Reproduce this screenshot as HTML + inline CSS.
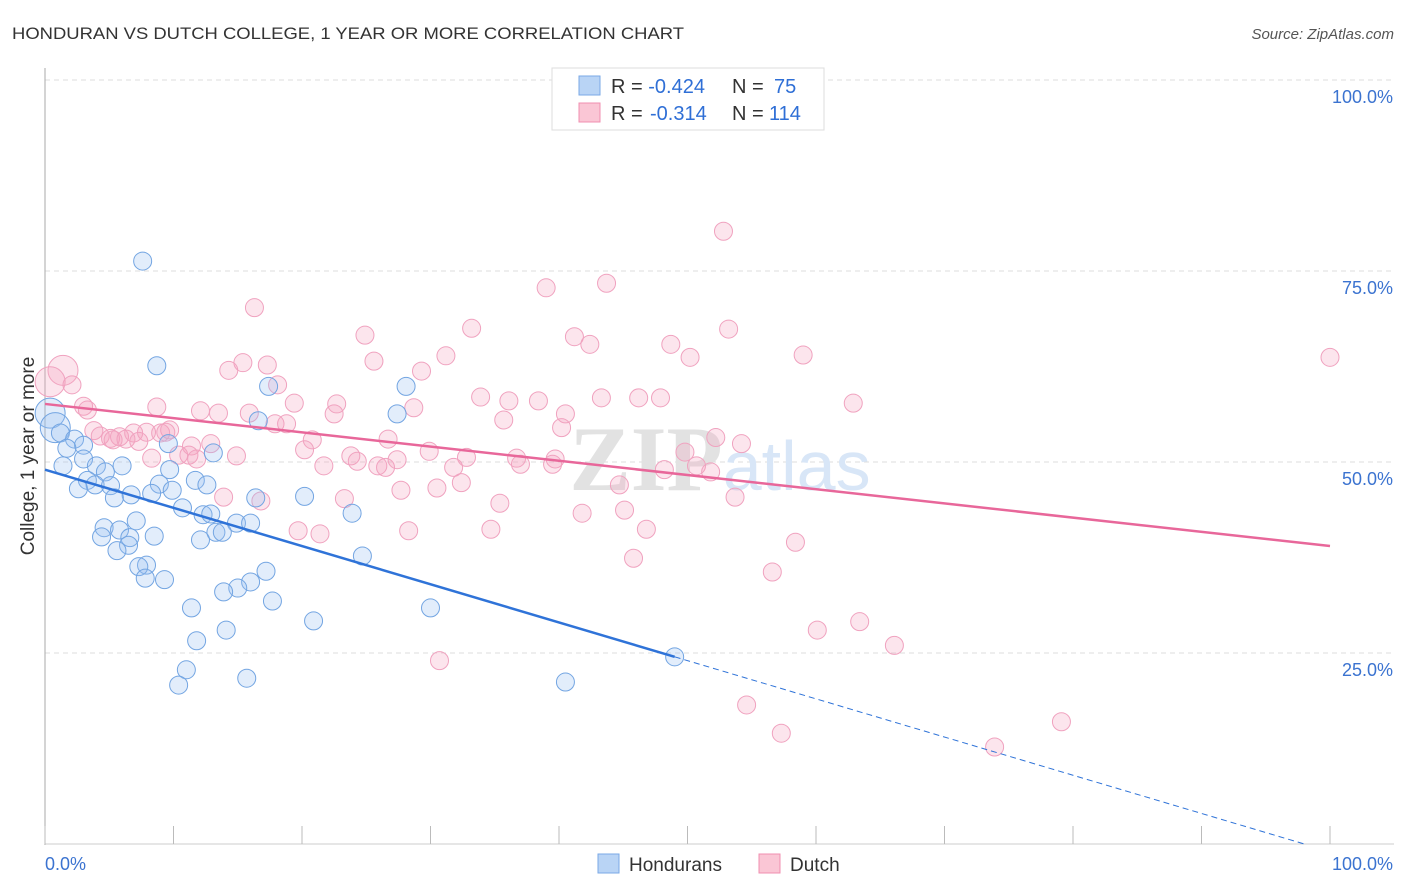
<!DOCTYPE html>
<html><head><meta charset="utf-8"><style>
body{margin:0;background:#fff;font-family:"Liberation Sans",sans-serif}
svg{display:block}
</style></head><body>
<svg id="chart" width="1406" height="892" viewBox="0 0 1406 892">
<text x="12" y="39" font-size="17" fill="#333" textLength="672" lengthAdjust="spacingAndGlyphs">HONDURAN VS DUTCH COLLEGE, 1 YEAR OR MORE CORRELATION CHART</text>
<text x="1394" y="39" font-size="15" fill="#555" text-anchor="end" font-style="italic">Source: ZipAtlas.com</text>
<g id="grid"></g>
<text x="720" y="490" font-size="92" fill="#e2e2e2" text-anchor="middle" font-family="Liberation Serif,serif" font-weight="bold">ZIP<tspan fill="#d8e6f7" font-family="Liberation Sans,sans-serif" font-weight="normal" font-size="70">atlas</tspan></text>
<g id="pts"></g>
<g id="lines"></g>
<text transform="translate(34,456) rotate(-90)" font-size="19" fill="#333" text-anchor="middle">College, 1 year or more</text>
<g>
<rect x="552" y="68" width="272" height="62" fill="#fff" stroke="#ddd"/>
<rect x="579" y="76" width="21" height="19" fill="#b9d4f5" stroke="#7aa8e6"/>
<rect x="579" y="103" width="21" height="19" fill="#fac6d5" stroke="#f08fb0"/>
<text x="611" y="93" font-size="20" fill="#333">R = <tspan fill="#2f6fd6">-0.424</tspan><tspan x="732">N = </tspan><tspan x="774" fill="#2f6fd6">75</tspan></text>
<text x="611" y="120" font-size="20" fill="#333">R = <tspan x="650" fill="#2f6fd6">-0.314</tspan><tspan x="732">N = </tspan><tspan x="769" fill="#2f6fd6">114</tspan></text>
</g>
<g>
<rect x="598" y="854" width="21" height="19" fill="#b9d4f5" stroke="#7aa8e6"/>
<text x="629" y="871" font-size="19" fill="#333">Hondurans</text>
<rect x="759" y="854" width="21" height="19" fill="#fac6d5" stroke="#f08fb0"/>
<text x="790" y="871" font-size="19" fill="#333">Dutch</text>
</g>
</svg>
<script>
const blueX=[7.6,8.7,17.4,28.1,27.4,16.6,0.4,0.8,1.2,2.3,3.0,1.7,3.0,9.6,13.1,1.4,4.0,6.0,4.7,9.7,3.3,3.9,5.1,8.9,11.7,12.6,2.6,9.9,6.7,8.3,5.4,16.4,20.2,10.7,12.3,12.9,23.9,7.1,14.9,16.0,4.6,5.8,13.3,13.8,4.4,6.6,8.5,12.1,6.5,5.6,24.7,7.9,7.3,17.2,7.8,9.3,16.0,15.0,13.9,17.7,11.4,30.0,20.9,14.1,11.8,49.0,11.0,10.4,15.7,40.5];
const blueY=[76.3,62.6,59.9,59.9,56.3,55.4,56.4,54.5,53.8,53.0,52.2,51.8,50.4,52.4,51.2,49.5,49.5,49.5,48.7,49.0,47.6,47.0,46.9,47.1,47.6,47.0,46.5,46.3,45.7,45.9,45.3,45.3,45.5,44.0,43.1,43.2,43.3,42.3,42.0,42.0,41.4,41.1,40.8,40.8,40.2,40.1,40.3,39.8,39.1,38.4,37.7,36.5,36.3,35.7,34.8,34.6,34.3,33.5,33.0,31.8,30.9,30.9,29.2,28.0,26.6,24.5,22.8,20.8,21.7,21.2];
const pinkX=[52.8,43.7,39.0,16.3,33.2,24.9,53.2,41.2,42.4,48.7,31.2,59.0,50.2,100,15.4,25.6,17.3,14.3,1.4,29.3,0.4,2.1,18.1,33.9,36.1,38.4,43.3,46.2,47.9,62.9,3.0,3.3,19.4,22.7,8.7,12.1,13.5,15.9,22.5,28.7,40.5,17.9,18.8,35.7,40.2,3.8,4.3,5.1,5.8,6.9,7.9,9.0,9.4,9.7,5.3,6.3,7.3,20.8,26.7,52.2,54.2,11.4,12.9,20.2,29.9,49.8,10.4,11.2,14.9,23.8,32.8,36.7,39.7,39.5,8.3,11.8,24.3,27.4,21.7,25.9,26.5,31.8,37.0,48.2,50.7,51.8,32.4,27.7,30.5,44.7,13.9,16.8,23.3,53.7,35.4,41.8,45.1,28.3,19.7,21.4,34.7,46.8,58.4,45.8,56.6,60.1,63.4,66.1,30.7,54.6,57.3,79.1,73.9];
const pinkY=[80.2,73.4,72.8,70.2,67.5,66.6,67.4,66.4,65.4,65.4,63.9,64.0,63.7,63.7,63.0,63.2,62.7,62.0,62.0,61.9,60.5,60.1,60.1,58.5,58.0,58.0,58.4,58.4,58.4,57.7,57.3,56.8,57.7,57.6,57.2,56.7,56.4,56.4,56.3,57.1,56.3,55.0,55.0,55.5,54.5,54.1,53.4,53.1,53.3,53.8,53.9,53.8,53.9,54.2,52.9,53.0,52.7,52.9,53.0,53.2,52.4,52.1,52.4,51.6,51.4,51.3,50.9,50.9,50.8,50.8,50.6,50.5,50.4,49.7,50.5,50.4,50.1,50.3,49.5,49.5,49.3,49.3,49.7,49.0,49.5,48.7,47.3,46.3,46.6,47.0,45.4,44.9,45.2,45.4,44.6,43.3,43.7,41.0,41.0,40.6,41.2,41.2,39.5,37.4,35.6,28.0,29.1,26.0,24.0,18.2,14.5,16.0,12.7];
const bigBlue=[6,7];const bigPink=[18,20];
const blueTrend=[49.0,-0.5];const pinkTrend=[57.6,-0.186];
const yTicks=[25,50,75,100];const yTickLabels=["25.0%","50.0%","75.0%","100.0%"];
const NS="http://www.w3.org/2000/svg";
const sx=v=>45+v*12.85, sy=v=>844-v*7.64;
function mk(t,a,p){const e=document.createElementNS(NS,t);for(const k in a)e.setAttribute(k,a[k]);p.appendChild(e);return e;}
const grid=document.getElementById('grid');
yTicks.forEach((t,i)=>{
 const l=mk('line',{x1:45,x2:1394,y1:sy(t),y2:sy(t),stroke:'#ddd','stroke-dasharray':'5,4'},grid);
 
 
 const tx=mk('text',{x:1393,y:sy(t)+23,'font-size':18,fill:'#3b73d0','text-anchor':'end'},grid);
 tx.textContent=yTickLabels[i];
 
 
});
mk('line',{x1:45,x2:45,y1:68,y2:845,stroke:'#aaa'},grid);
mk('line',{x1:45,x2:1394,y1:844,y2:844,stroke:'#ccc'},grid);
for(let i=0;i<=10;i++){const t=mk('line',{x1:sx(i*10),x2:sx(i*10),y1:826,y2:844,stroke:'#bbb'},grid);
 
 }
const x0=mk('text',{x:45,y:870,'font-size':18,fill:'#3b73d0'},grid);x0.textContent='0.0%';


const x1=mk('text',{x:1393,y:870,'font-size':18,fill:'#3b73d0','text-anchor':'end'},grid);x1.textContent='100.0%';


const pts=document.getElementById('pts');
pinkX.forEach((x,i)=>{const c=mk('circle',{cx:sx(x),cy:sy(pinkY[i]),r:bigPink.includes(i)?15:9,fill:'rgba(246,160,190,0.28)',stroke:'#f0a2bf','stroke-width':1},pts);
 
 });
blueX.forEach((x,i)=>{const c=mk('circle',{cx:sx(x),cy:sy(blueY[i]),r:bigBlue.includes(i)?15:9,fill:'rgba(150,190,240,0.28)',stroke:'#73a5e2','stroke-width':1},pts);
 
 });
const ln=document.getElementById('lines');
const bEnd=49, bZero=-blueTrend[0]/blueTrend[1];
let l1=mk('line',{x1:sx(0),y1:sy(blueTrend[0]),x2:sx(bEnd),y2:sy(blueTrend[0]+blueTrend[1]*bEnd),stroke:'#2f73d8','stroke-width':2.5},ln);


let l2=mk('line',{x1:sx(bEnd),y1:sy(blueTrend[0]+blueTrend[1]*bEnd),x2:sx(Math.min(bZero,99.2)),y2:sy(Math.max(0,blueTrend[0]+blueTrend[1]*99.2)),stroke:'#2f73d8','stroke-width':1,'stroke-dasharray':'6,4'},ln);


let l3=mk('line',{x1:sx(0),y1:sy(pinkTrend[0]),x2:sx(100),y2:sy(pinkTrend[0]+pinkTrend[1]*100),stroke:'#e8679a','stroke-width':2.5},ln);


</script>
</body></html>
